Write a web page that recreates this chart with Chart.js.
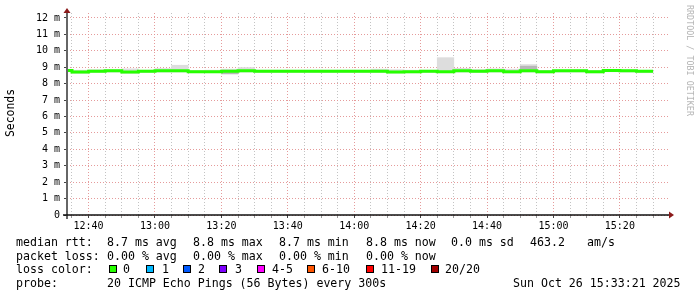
<!DOCTYPE html>
<html>
<head>
<meta charset="utf-8">
<script src="https://cdn.jsdelivr.net/npm/chart.js@4.4.1/dist/chart.umd.min.js"></script>
<style>
html,body{margin:0;padding:0;background:#fff;}
#wrap{position:relative;width:697px;height:297px;overflow:hidden;background:#fff;}
canvas{position:absolute;left:0;top:0;}
.t{position:absolute;font-family:"DejaVu Sans Mono",monospace;font-size:11.6px;line-height:14px;color:#000;white-space:pre;}
.box{position:absolute;width:6px;height:6px;border:1px solid #000;}
.rot{position:absolute;white-space:pre;font-family:"DejaVu Sans Mono",monospace;font-weight:normal;transform-origin:0 0;}
</style>
</head>
<body>
<div id="wrap">
<canvas id="c" width="697" height="297"></canvas>
<div id="legend"></div>
</div>
<script>
// ---------------- data ----------------
const intervalStarts = ['12:30','12:35','12:40','12:45','12:50','12:55','13:00','13:05','13:10','13:15','13:20','13:25','13:30','13:35','13:40','13:45','13:50','13:55','14:00','14:05','14:10','14:15','14:20','14:25','14:30','14:35','14:40','14:45','14:50','14:55','15:00','15:05','15:10','15:15','15:20','15:25'];
const seriesEnd = '15:30';
// median rtt in ms (axis unit "m" = milli-seconds)
const medianRtt = [8.80,8.70,8.75,8.78,8.70,8.75,8.78,8.78,8.72,8.72,8.75,8.78,8.75,8.75,8.75,8.75,8.75,8.75,8.75,8.75,8.70,8.72,8.75,8.72,8.78,8.75,8.78,8.72,8.78,8.72,8.78,8.78,8.72,8.80,8.78,8.75];
const smokeLow  = [8.72,8.62,8.68,8.70,8.62,8.68,8.70,8.70,8.66,8.66,8.58,8.70,8.68,8.68,8.68,8.68,8.68,8.68,8.68,8.68,8.64,8.65,8.68,8.66,8.70,8.68,8.70,8.65,8.70,8.65,8.70,8.70,8.65,8.72,8.70,8.66];
const smokeHigh = [8.85,8.82,8.85,8.85,8.90,8.82,8.92,9.12,8.80,8.82,8.88,8.98,8.82,8.82,8.82,8.82,8.82,8.82,8.82,8.88,8.85,8.82,8.82,9.58,8.93,8.86,8.90,8.88,9.16,8.80,8.82,8.84,8.80,8.85,8.84,8.80];
const smokeCoreLow  = [null,null,null,null,null,null,null,null,null,null,8.60,null,null,null,null,null,null,null,null,null,null,null,null,null,null,null,null,null,8.88,null,null,null,null,null,null,null];
const smokeCoreHigh = [null,null,null,null,null,null,null,null,null,null,8.68,null,null,null,null,null,null,null,null,null,null,null,null,null,null,null,null,null,9.06,null,null,null,null,null,null,null];
const timeTickLabels = ['12:40','13:00','13:20','13:40','14:00','14:20','14:40','15:00','15:20'];
const yTickLabels = ['0','1 m','2 m','3 m','4 m','5 m','6 m','7 m','8 m','9 m','10 m','11 m','12 m'];
const statLines = [
  ['median rtt:','8.7 ms avg','8.8 ms max','8.7 ms min','8.8 ms now','0.0 ms sd','463.2','am/s'],
  ['packet loss:','0.00 % avg','0.00 % max','0.00 % min','0.00 % now']
];
const lossColorLabels = ['0','1','2','3','4-5','6-10','11-19','20/20'];
const probeText = ['probe:','20 ICMP Echo Pings (56 Bytes) every 300s','Sun Oct 26 15:33:21 2025'];
const yTitle = 'Seconds';
const watermark = 'RRDTOOL / TOBI OETIKER';

// ---------------- styles ----------------
const lossColors = ['#26ff00','#00b8ff','#0059ff','#7e00ff','#ff00ff','#ff5500','#ff0000','#a10000'];
const statX = [[16,107,193,279,366,451,530,587],[16,107,193,279,366]];
const statTop = [234.5, 248.5];
const lossBoxX = [109,146,183,219,257,307,366,431];
const lossLabelX = [123,162,198,235,272,322,381,445];
const lossTop = 262;
const probeX = [16,107,513];
const probeTop = 276;

function toMin(s){const p=s.split(':');return (+p[0])*60+(+p[1]);}

const lineData = intervalStarts.map((t,i)=>({x:toMin(t), y:medianRtt[i]}));
lineData.push({x:toMin(seriesEnd), y:medianRtt[medianRtt.length-1]});
const smokeData = intervalStarts.map((t,i)=>({x:toMin(t)+2.5, y:[smokeLow[i], smokeHigh[i]]}));
const coreData = intervalStarts.map((t,i)=>smokeCoreLow[i]==null?null:({x:toMin(t)+2.5, y:[smokeCoreLow[i], smokeCoreHigh[i]]})).filter(d=>d);

const RED_GRID = 'rgba(228,150,150,0.95)';
const GRAY_GRID = 'rgba(195,195,195,1)';

const axesPlugin = {
  id:'rrdAxes',
  afterDraw(chart){
    const {ctx, chartArea:{left,right,top,bottom}} = chart;
    ctx.save();
    ctx.strokeStyle = '#666';
    ctx.lineWidth = 2;
    ctx.beginPath(); ctx.moveTo(left, bottom+4); ctx.lineTo(left, top-1); ctx.stroke();
    ctx.strokeStyle = '#111';
    ctx.lineWidth = 1.5;
    ctx.beginPath(); ctx.moveTo(left-4, bottom); ctx.lineTo(right+2, bottom); ctx.stroke();
    ctx.fillStyle = '#8b1a1a';
    ctx.beginPath(); ctx.moveTo(left-3.5, top); ctx.lineTo(left+3.5, top); ctx.lineTo(left, top-5); ctx.closePath(); ctx.fill();
    ctx.beginPath(); ctx.moveTo(right+1, bottom-3.5); ctx.lineTo(right+1, bottom+3.5); ctx.lineTo(right+6, bottom); ctx.closePath(); ctx.fill();
    ctx.restore();
  }
};

new Chart(document.getElementById('c'), {
  type:'line',
  data:{
    datasets:[
      {type:'line', label:'median', data:lineData, stepped:'before', borderColor:lossColors[0], borderWidth:3, pointRadius:0, fill:false, order:0},
      {type:'bar', label:'smoke core', data:coreData, backgroundColor:'#b8b8b8', borderWidth:0, grouped:false, barPercentage:1, categoryPercentage:1, order:1},
      {type:'bar', label:'smoke', data:smokeData, backgroundColor:'#dddddd', borderWidth:0, grouped:false, barPercentage:1, categoryPercentage:1, order:2}
    ]
  },
  options:{
    responsive:false, animation:false, devicePixelRatio:1,
    layout:{padding:{left:0, top:13, right:29, bottom:0}},
    plugins:{legend:{display:false}, tooltip:{enabled:false}},
    scales:{
      x:{
        type:'linear', min:753.5, max:934.5, offset:false,
        afterBuildTicks(s){ const t=[]; for(let m=755;m<=930;m+=5) t.push({value:m}); s.ticks=t; },
        afterFit(s){ s.height = 82; },
        grid:{offset:false, lineWidth:1, drawTicks:true, tickLength:3,
          color:(c)=> (c.tick && c.tick.value%20===0) ? RED_GRID : GRAY_GRID,
          tickColor:(c)=> (c.tick && c.tick.value%20===0) ? '#444' : '#999'},
        border:{display:false, dash:[1,2]},
        ticks:{autoSkip:false, maxRotation:0, minRotation:0, padding:2, color:'#000',
          font:{family:'"DejaVu Sans Mono", monospace', size:10},
          callback:(v)=>{ const h=Math.floor(v/60), m=v%60; const s=h+':'+(m<10?'0':'')+m; return timeTickLabels.includes(s)?s:''; }}
      },
      y:{
        type:'linear', min:0, max:12.3,
        afterBuildTicks(s){ const t=[]; for(let k=0;k<=24;k++) t.push({value:k/2}); s.ticks=t; },
        afterFit(s){ s.width = 67; },
        grid:{lineWidth:1, drawTicks:true, tickLength:3,
          color:(c)=> (c.tick && Number.isInteger(c.tick.value)) ? RED_GRID : GRAY_GRID,
          tickColor:(c)=> (c.tick && Number.isInteger(c.tick.value)) ? '#444' : 'rgba(0,0,0,0)'},
        border:{display:false, dash:[1,2]},
        ticks:{padding:4, color:'#000', font:{family:'"DejaVu Sans Mono", monospace', size:10},
          callback:(v)=> Number.isInteger(v) ? yTickLabels[v] : ''}
      }
    }
  },
  plugins:[axesPlugin]
});

// ---------------- text legend ----------------
const lg = document.getElementById('legend');
function addText(txt,x,y,cls){const d=document.createElement('div');d.className=cls||'t';d.textContent=txt;d.style.left=x+'px';d.style.top=y+'px';lg.appendChild(d);return d;}
statLines.forEach((line,li)=>line.forEach((s,j)=>addText(s,statX[li][j],statTop[li])));
addText('loss color:',16,lossTop);
lossColorLabels.forEach((l,i)=>{
  const b=document.createElement('div');b.className='box';b.style.left=lossBoxX[i]+'px';b.style.top=(lossTop+3)+'px';b.style.background=lossColors[i];lg.appendChild(b);
  addText(l,lossLabelX[i],lossTop);
});
probeText.forEach((s,i)=>addText(s,probeX[i],probeTop));
const yt = addText(yTitle,4,137,'rot');
yt.style.fontSize='11.4px'; yt.style.lineHeight='13px'; yt.style.color='#000';
yt.style.transform='rotate(-90deg)';
const wm = addText(watermark,694,5,'rot');
wm.style.fontSize='8.4px'; wm.style.lineHeight='9px'; wm.style.color='#b4b4b4';
wm.style.transform='rotate(90deg)';
</script>
</body>
</html>
